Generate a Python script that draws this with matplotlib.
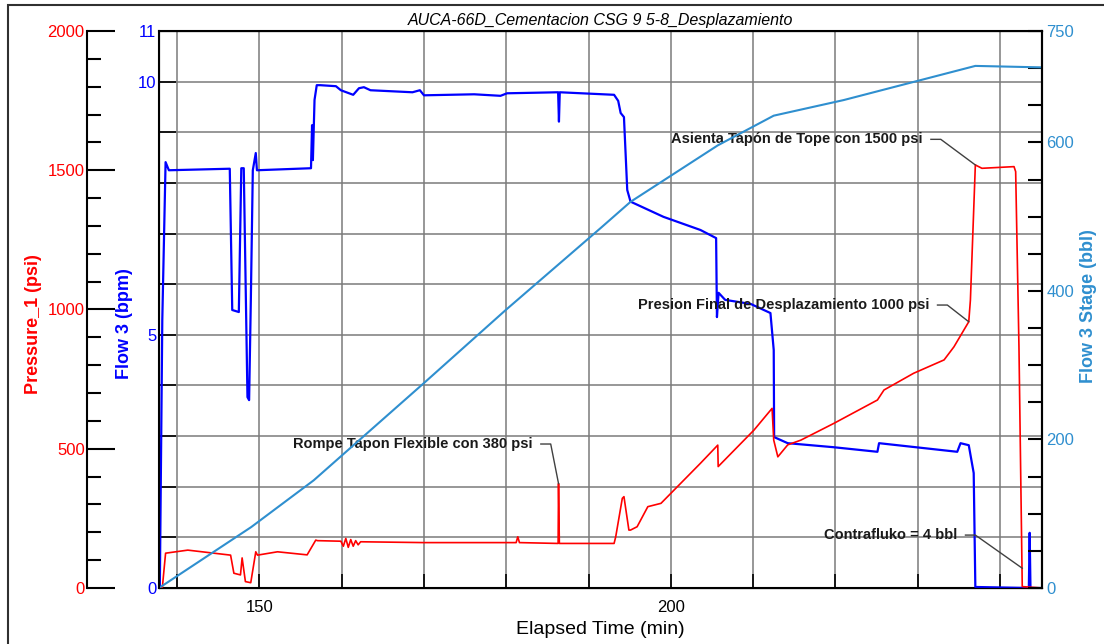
import matplotlib
matplotlib.use('Agg')
import matplotlib.pyplot as plt
from matplotlib import font_manager
from matplotlib.ticker import FixedLocator, MultipleLocator, FuncFormatter
from matplotlib.patches import Rectangle

# fonts: Arial look-alike, narrow cut if the box has it
names = {f.name for f in font_manager.fontManager.ttflist}
narrow = 'Liberation Sans Narrow' if 'Liberation Sans Narrow' in names else 'Liberation Sans'
plt.rcParams['font.family'] = ['Liberation Sans', 'DejaVu Sans']

# ---- data ----
# Flow 3 Stage (bbl), light blue, right axis
stage_time = [137.8, 149.0, 156.6, 170.0, 179.9, 191.5, 195.1, 205.7, 212.5, 221.0, 237.0, 245.1]
stage_bbl = [0, 82, 145, 276, 374, 485, 520, 596, 636, 657, 703, 701]

# Flow 3 (bpm), blue, inner left axis
flow_time = [137.9, 138.2, 138.6, 139.0, 146.4, 146.7, 147.5, 147.8, 148.1, 148.55, 148.75,
             148.96, 149.2, 149.56, 149.7, 156.27, 156.4, 156.5, 156.7, 156.97, 157.4, 159.3,
             159.9, 161.4, 162.1, 162.7, 163.5, 168.6, 169.5, 170.0, 176.1, 179.3, 180.1,
             186.3, 186.4, 186.5, 193.1, 193.6, 193.9, 194.3, 194.7, 195.1, 199.1, 203.6,
             205.5, 205.6, 205.8, 206.6, 209.7, 212.1, 212.5, 212.55, 214.2, 219.8, 225.1,
             225.3, 234.8, 235.2, 236.2, 236.8, 237.0, 243.5, 243.6, 243.7, 245.1]
flow_bpm = [0, 5.29, 8.41, 8.25, 8.28, 5.49, 5.45, 8.29, 8.29, 3.77, 3.71,
            5.69, 8.25, 8.59, 8.25, 8.29, 9.14, 8.45, 9.64, 9.93, 9.93, 9.91,
            9.83, 9.74, 9.87, 9.89, 9.83, 9.79, 9.83, 9.73, 9.75, 9.72, 9.77,
            9.79, 9.21, 9.79, 9.74, 9.62, 9.38, 9.30, 7.86, 7.63, 7.33, 7.07,
            6.91, 5.35, 5.83, 5.69, 5.61, 5.43, 4.70, 2.98, 2.86, 2.78, 2.69,
            2.86, 2.69, 2.86, 2.82, 2.27, 0.02, 0.0, 1.09, 0.0, 0.0]

# Pressure_1 (psi), red, outer left axis
pressure_time = [137.9, 138.2, 138.6, 141.3, 146.5, 146.9, 147.7, 147.9, 148.3, 148.95,
                 149.56, 149.77, 152.2, 155.8, 156.85, 157.06, 159.9, 160.2, 160.5, 160.8,
                 161.1, 161.4, 161.7, 162.0, 162.3, 170.0, 181.2, 181.4, 181.6, 186.3,
                 186.35, 186.45, 193.1, 193.3, 194.1, 194.3, 194.9, 195.1, 195.9, 197.2,
                 198.8, 200.0, 203.6, 205.7, 205.75, 210.1, 212.3, 212.5, 213.0, 214.2,
                 215.8, 219.8, 225.1, 225.9, 229.5, 233.2, 234.4, 236.2, 236.4, 237.0,
                 237.8, 241.7, 241.9, 242.3, 242.7, 245.1]
pressure_psi = [0, 0, 125, 136, 118, 53, 47, 108, 23, 19,
                130, 118, 130, 119, 172, 170, 168, 150, 178, 146,
                174, 150, 170, 155, 166, 163, 163, 184, 163, 160,
                375, 160, 160, 184, 322, 328, 208, 208, 220, 292,
                304, 340, 448, 513, 436, 567, 645, 531, 471, 514,
                531, 591, 675, 711, 771, 819, 866, 956, 1034, 1519,
                1507, 1513, 1495, 866, 5, 0]

# callouts: text, right end of text (min, psi), point on the red line (min, psi)
note_text = ["Asienta Tapón de Tope con 1500 psi",
             "Presion Final de Desplazamiento 1000 psi",
             "Rompe Tapon Flexible con 380 psi",
             "Contrafluko = 4 bbl"]
note_at = [(230.6, 1611), (231.4, 1016), (183.2, 517), (234.8, 190)]
note_to = [(237.0, 1519), (236.2, 956), (186.35, 375), (242.7, 71)]

RED = '#FF0000'
BLUE = '#0000FF'
LBLUE = '#2F8FCF'

fig = plt.figure(figsize=(11.04, 6.44), dpi=100)
ax = fig.add_axes([159 / 1104, 56 / 644, 883 / 1104, 557 / 644])
axp = ax.twinx()
axs = ax.twinx()

# outer frame of the picture
fig.patches.append(Rectangle((8 / 1104, -0.1), 1.2, (644 - 5) / 644 + 0.1,
                             transform=fig.transFigure, fill=False,
                             edgecolor='#303030', linewidth=1.5))

# flow (main axes)
ax.plot(flow_time, flow_bpm, color=BLUE, lw=1.6, zorder=3)
ax.set_xlim(137.8, 245.1)
ax.set_ylim(0, 11)
ax.yaxis.set_major_locator(FixedLocator(range(0, 12)))
ax.yaxis.set_major_formatter(FuncFormatter(lambda v, p: f'{v:.0f}' if v in (0, 5, 10, 11) else ''))
ax.xaxis.set_major_locator(MultipleLocator(10))
ax.xaxis.set_major_formatter(FuncFormatter(lambda v, p: f'{v:.0f}' if v % 50 == 0 else ''))
ax.tick_params(axis='y', direction='in', length=12, width=1.2, colors='black',
               labelcolor=BLUE, labelsize=12, pad=2)
ax.tick_params(axis='x', direction='in', length=10, width=1.2, labelsize=12, pad=9)
for lab in ax.get_xticklabels() + ax.get_yticklabels():
    lab.set_fontfamily(narrow)
ax.grid(True, color='#7a7a7a', lw=1.1)
ax.set_axisbelow(True)
ax.set_xlabel('Elapsed Time (min)', fontsize=14, family=narrow, labelpad=4)
ax.set_ylabel('Flow 3 (bpm)', color=BLUE, fontsize=13, fontweight='bold')
ax.yaxis.set_label_coords(-0.0294, 0.474)
for s in ax.spines.values():
    s.set_linewidth(1.5)

# pressure on an outer left spine
axp.plot(pressure_time, pressure_psi, color=RED, lw=1.2, zorder=4)
axp.set_ylim(0, 2000)
axp.spines['left'].set_position(('outward', 51.5))
axp.spines['left'].set_visible(True)
axp.spines['left'].set_linewidth(1.5)
axp.spines['right'].set_visible(False)
axp.yaxis.set_ticks_position('left')
axp.yaxis.set_label_position('left')
axp.yaxis.set_major_locator(MultipleLocator(500))
axp.yaxis.set_minor_locator(MultipleLocator(100))
axp.tick_params(axis='y', which='major', direction='in', length=20, width=1.5,
                labelcolor=RED, labelsize=12, pad=2)
axp.tick_params(axis='y', which='minor', direction='in', length=10, width=1.5)
for lab in axp.get_yticklabels():
    lab.set_fontfamily(narrow)
axp.set_ylabel('Pressure_1 (psi)', color=RED, fontsize=13, fontweight='bold')
axp.yaxis.set_label_coords(-0.1325, 0.474)

# leader lines and callout text
for txt, (xt, yt), (xp, yp) in zip(note_text, note_at, note_to):
    axp.text(xt, yt, txt, ha='right', va='center', fontsize=10.5, family=narrow,
             fontweight='bold', color='#1a1a1a', zorder=6)
    axp.plot([xt + 1.0, xt + 2.2, xp], [yt, yt, yp], color='#404040', lw=1.0, zorder=5)

# stage on the right
axs.plot(stage_time, stage_bbl, color=LBLUE, lw=1.5, zorder=2)
axs.set_ylim(0, 750)
axs.yaxis.set_major_locator(FixedLocator([0, 200, 400, 600, 750]))
axs.yaxis.set_minor_locator(MultipleLocator(50))
axs.tick_params(axis='y', which='major', direction='in', length=10, width=1.5,
                labelcolor=LBLUE, labelsize=12, pad=3)
axs.tick_params(axis='y', which='minor', direction='in', length=10, width=1.5)
for lab in axs.get_yticklabels():
    lab.set_fontfamily(narrow)
axs.spines['right'].set_linewidth(1.5)
axs.set_ylabel('Flow 3 Stage (bbl)', color=LBLUE, fontsize=13, fontweight='bold',
               rotation=90)
axs.yaxis.set_label_coords(1.043, 0.506)

ax.set_title('AUCA-66D_Cementacion CSG 9 5-8_Desplazamiento', fontsize=11.5,
             style='italic', pad=4)

fig.savefig('out.png', dpi=100)
